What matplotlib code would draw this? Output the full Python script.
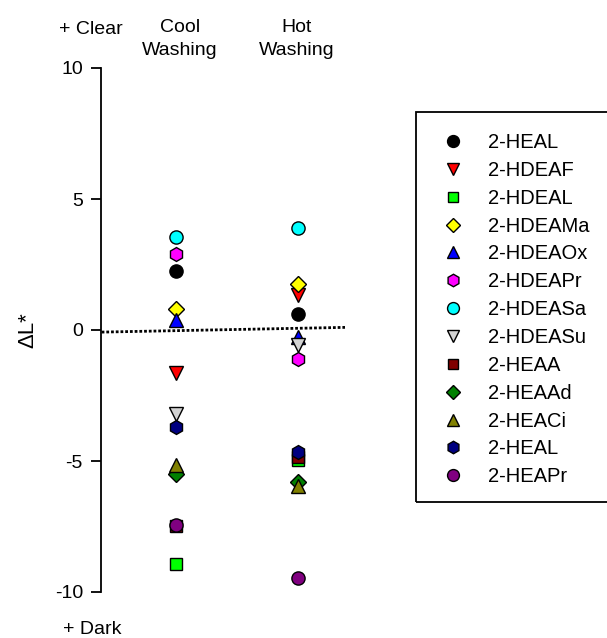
import matplotlib
matplotlib.use("Agg")
import matplotlib.pyplot as plt
from matplotlib.patches import Rectangle
from matplotlib.lines import Line2D

plt.rcParams['font.family'] = ['Liberation Sans', 'DejaVu Sans']

conditions = ["Cool\nWashing", "Hot\nWashing"]
cond_x = [1, 2]
names = ["2-HEAL", "2-HDEAF", "2-HDEAL", "2-HDEAMa", "2-HDEAOx", "2-HDEAPr",
         "2-HDEASa", "2-HDEASu", "2-HEAA", "2-HEAAd", "2-HEACi", "2-HEAL", "2-HEAPr"]
cool_vals = [2.25, -1.64, -8.93, 0.80, 0.38, 2.90, 3.55, -3.20, -7.48, -5.50, -5.15, -3.70, -7.45]
hot_vals = [0.60, 1.34, -4.95, 1.75, -0.27, -1.10, 3.90, -0.57, -4.85, -5.80, -5.95, -4.65, -9.45]
markers = ['o', 'v', 's', 'D', '^', 'h', 'o', 'v', 's', 'D', '^', 'h', 'o']
colors = ['black', 'red', '#00ff00', 'yellow', 'blue', 'magenta', 'cyan', '#d3d3d3',
          '#800000', '#008000', '#808000', '#000080', '#800080']
trend_x = [0.39, 2.385]
trend_y = [-0.08, 0.10]
yticks = [-10, -5, 0, 5, 10]

W, H = 607, 638
fig = plt.figure(figsize=(W / 100, H / 100), dpi=100)

def fx(px):
    return px / W

def fy(py):
    return 1 - py / H

ax = fig.add_axes([fx(101), fy(592), fx(360) - fx(101), fy(68) - fy(592)])
ax.set_xlim(0.385, 0.385 + 259 / 122)
ax.set_ylim(-10, 10)

ax.plot(trend_x, trend_y, linestyle=(0, (1, 0.7)), color='black', lw=2.0, zorder=1)

sizes = {'o': 9.5, 'v': 10, 's': 8.5, 'D': 8, '^': 10, 'h': 10}
for i, name in enumerate(names):
    ax.plot(cond_x, [cool_vals[i], hot_vals[i]], linestyle='none', marker=markers[i],
            markersize=sizes[markers[i]], markerfacecolor=colors[i], markeredgecolor='black',
            markeredgewidth=1.0, clip_on=False, zorder=3 + i)

for s in ['top', 'right', 'bottom']:
    ax.spines[s].set_visible(False)
ax.spines['left'].set_linewidth(1.3)
ax.set_xticks([])
ax.set_yticks(yticks)
ax.set_yticklabels([str(t) for t in yticks])
ax.tick_params(axis='y', direction='out', length=7, width=1.3, labelsize=14, pad=6)
ax.set_ylabel('ΔL*', fontsize=16, labelpad=12)

fig.text(fx(91), fy(30), '+ Clear', ha='center', va='center', fontsize=14)
fig.text(fx(92), fy(630), '+ Dark', ha='center', va='center', fontsize=14)
for cx, lab in zip([180, 297], conditions):
    fig.text(fx(cx), fy(39), lab, ha='center', va='center', fontsize=14, linespacing=1.4)

# legend frame
fig.patches.append(Rectangle((fx(416), fy(502)), fx(620) - fx(416), fy(112) - fy(502),
                             transform=fig.transFigure, fill=False, edgecolor='black', lw=1.3))
handles = [Line2D([], [], linestyle='none', marker=markers[i], markersize=sizes[markers[i]] * 0.9,
                  markerfacecolor=colors[i], markeredgecolor='black', markeredgewidth=1.0)
           for i in range(len(names))]
fig.legend(handles, names, loc='upper left', bbox_to_anchor=(fx(440), fy(133)),
           frameon=False, fontsize=14.5, labelspacing=0.44, handletextpad=1.1,
           handlelength=1.3, borderpad=0, borderaxespad=0)

fig.savefig('out.png', dpi=100)
